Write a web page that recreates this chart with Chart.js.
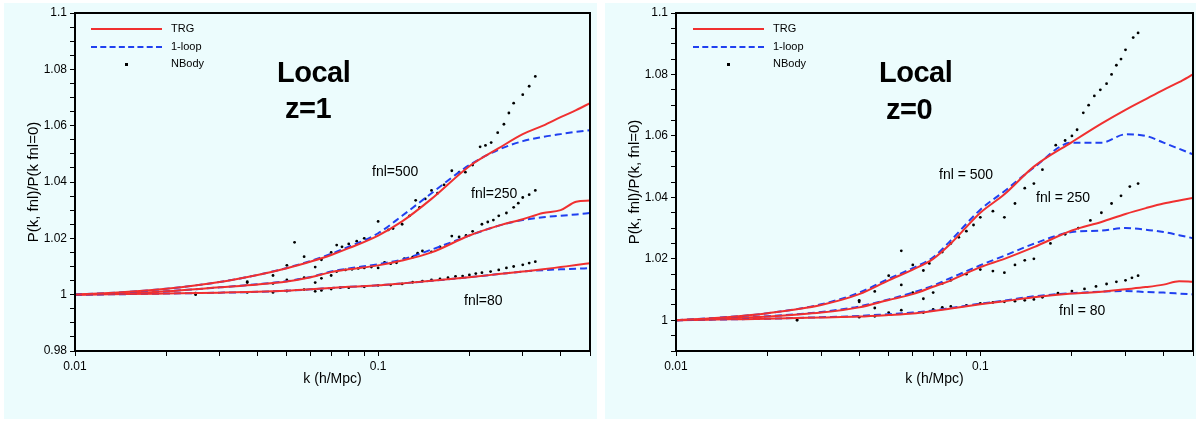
<!DOCTYPE html>
<html><head><meta charset="utf-8">
<script src="https://cdn.jsdelivr.net/npm/chart.js@4.4.1/dist/chart.umd.min.js"></script>
<style>
body{margin:0;background:#fff;width:1200px;height:422px;position:relative;font-family:"Liberation Sans",Arial,sans-serif;overflow:hidden}
.panel{position:absolute;top:3px;height:416px;background:#ecfcfd}
.wrap{position:absolute;top:0;width:600px;height:422px}
.t{position:absolute;color:#000;white-space:nowrap}
.big{font-size:29px;font-weight:bold;letter-spacing:-0.5px}
.fn{font-size:14px}
.lg{font-size:11px}
.ls{position:absolute;width:71px;height:0}
</style></head><body>
<div class="panel" style="left:4px;width:593px"></div>
<div class="panel" style="left:605px;width:591px"></div>
<div class="wrap" style="left:0"><canvas id="c1"></canvas></div>
<div class="wrap" style="left:600px"><canvas id="c2"></canvas></div>

<!-- legend + labels left -->
<div class="ls" style="left:91px;top:28px;border-top:2px solid #f03030"></div>
<div class="ls" style="left:91px;top:46px;border-top:2px dashed #2040f0"></div>
<div style="position:absolute;left:125px;top:63px;width:3px;height:3px;background:#000"></div>
<div class="t lg" style="left:171px;top:22px">TRG</div>
<div class="t lg" style="left:171px;top:40px">1-loop</div>
<div class="t lg" style="left:171px;top:57px">NBody</div>
<div class="t big" style="left:277px;top:56px">Local</div>
<div class="t big" style="left:285px;top:92px">z=1</div>
<div class="t fn" style="left:372px;top:163px">fnl=500</div>
<div class="t fn" style="left:471px;top:185px">fnl=250</div>
<div class="t fn" style="left:464px;top:292px">fnl=80</div>

<!-- legend + labels right -->
<div class="ls" style="left:693px;top:28px;border-top:2px solid #f03030"></div>
<div class="ls" style="left:693px;top:46px;border-top:2px dashed #2040f0"></div>
<div style="position:absolute;left:727px;top:63px;width:3px;height:3px;background:#000"></div>
<div class="t lg" style="left:773px;top:22px">TRG</div>
<div class="t lg" style="left:773px;top:40px">1-loop</div>
<div class="t lg" style="left:773px;top:57px">NBody</div>
<div class="t big" style="left:879px;top:56px">Local</div>
<div class="t big" style="left:886px;top:93px">z=0</div>
<div class="t fn" style="left:939px;top:166px">fnl = 500</div>
<div class="t fn" style="left:1036px;top:189px">fnl = 250</div>
<div class="t fn" style="left:1059px;top:302px">fnl = 80</div>

<script>
// common k grid for theory curves
const kGrid = [0.01,0.015,0.02,0.03,0.04,0.05,0.06,0.07,0.08,0.1,0.12,0.15,0.2,0.25,0.3,0.35,0.4,0.45,0.5];

// z=1
const trg500_z1  = [1,1.001,1.0021,1.0045,1.007,1.0094,1.0118,1.0141,1.0165,1.021,1.026,1.034,1.0456,1.052,1.057,1.060,1.063,1.0655,1.068];
const loop500_z1 = [1,1.001,1.0021,1.0045,1.007,1.0095,1.012,1.0145,1.017,1.0218,1.028,1.036,1.046,1.0515,1.0545,1.056,1.057,1.0578,1.0584];
const trg250_z1  = [1,1.0005,1.0012,1.0026,1.0036,1.0047,1.0062,1.008,1.009,1.0104,1.0121,1.015,1.021,1.0245,1.0268,1.029,1.030,1.033,1.0334];
const loop250_z1 = [1,1.0005,1.0012,1.0026,1.0037,1.0048,1.0063,1.0082,1.0093,1.0108,1.0125,1.016,1.021,1.0245,1.0265,1.0275,1.028,1.0285,1.029];
const trg80_z1   = [1,1.0002,1.0004,1.0007,1.001,1.0014,1.0019,1.0024,1.0028,1.0033,1.004,1.0049,1.0062,1.0073,1.0082,1.009,1.0098,1.0105,1.0112];
const loop80_z1  = [1,1.0002,1.0004,1.0007,1.001,1.0014,1.0019,1.0024,1.0028,1.0033,1.004,1.0049,1.0062,1.0073,1.0082,1.0087,1.009,1.0092,1.0094];
const nbK500_z1 = [0.025,0.037,0.045,0.05,0.053,0.057,0.062,0.065,0.07,0.073,0.076,0.08,0.085,0.09,0.1,0.108,0.112,0.12,0.127,0.133,0.137,0.143,0.15,0.157,0.165,0.175,0.185,0.194,0.205,0.217,0.226,0.236,0.248,0.26,0.27,0.28,0.3,0.315,0.33];
const nbV500_z1 = [1.0005,1.0046,1.0068,1.0104,1.0186,1.0135,1.0098,1.0124,1.015,1.0176,1.017,1.018,1.019,1.02,1.026,1.023,1.0235,1.025,1.028,1.0335,1.031,1.034,1.037,1.036,1.039,1.044,1.0435,1.0435,1.046,1.0525,1.053,1.054,1.0575,1.0605,1.0645,1.068,1.071,1.074,1.0775];
const nbK250_z1 = [0.025,0.037,0.045,0.05,0.057,0.062,0.065,0.07,0.073,0.078,0.082,0.086,0.09,0.095,0.1,0.105,0.11,0.115,0.122,0.13,0.135,0.14,0.15,0.16,0.175,0.185,0.195,0.205,0.22,0.23,0.24,0.25,0.265,0.28,0.29,0.3,0.315,0.33];
const nbV250_z1 = [1.0003,1.0043,1.004,1.0052,1.006,1.0043,1.0058,1.0068,1.0082,1.0088,1.009,1.0093,1.0095,1.0098,1.0095,1.0115,1.011,1.0113,1.0128,1.0133,1.0147,1.0155,1.0152,1.017,1.0208,1.0205,1.021,1.0225,1.025,1.0258,1.0265,1.028,1.029,1.031,1.0325,1.0345,1.0355,1.037];
const nbK80_z1 = [0.025,0.037,0.045,0.05,0.057,0.062,0.065,0.07,0.075,0.08,0.09,0.1,0.11,0.12,0.13,0.14,0.15,0.16,0.17,0.18,0.19,0.2,0.21,0.22,0.235,0.25,0.265,0.28,0.3,0.315,0.33];
const nbV80_z1 = [1.0,1.0008,1.0008,1.0013,1.0018,1.0012,1.0015,1.002,1.0025,1.0025,1.0028,1.0033,1.0034,1.0038,1.0044,1.0048,1.0052,1.0056,1.006,1.0065,1.0066,1.007,1.0075,1.0078,1.0082,1.0088,1.0095,1.01,1.0106,1.0112,1.0117];

// z=0
const trg500_z0  = [1,1.0011,1.0023,1.005,1.0085,1.013,1.0165,1.020,1.025,1.035,1.041,1.050,1.058,1.064,1.0685,1.072,1.075,1.0775,1.080];
const loop500_z0 = [1,1.0011,1.0023,1.0052,1.009,1.0135,1.017,1.0205,1.026,1.036,1.042,1.0497,1.0578,1.0578,1.0605,1.06,1.0578,1.0558,1.054];
const trg250_z0  = [1,1.0006,1.0012,1.0025,1.0042,1.0066,1.0085,1.0109,1.013,1.0173,1.020,1.0238,1.0292,1.032,1.0346,1.0365,1.038,1.039,1.0398];
const loop250_z0 = [1,1.0006,1.0013,1.0027,1.0045,1.0068,1.009,1.0113,1.0138,1.0179,1.021,1.0249,1.0287,1.0292,1.030,1.0295,1.0287,1.0277,1.0267];
const trg80_z0   = [1,1.0003,1.0005,1.0009,1.0012,1.0017,1.0022,1.003,1.0038,1.0052,1.0062,1.0075,1.0087,1.0093,1.0101,1.0108,1.0116,1.0127,1.0125];
const loop80_z0  = [1,1.0003,1.0005,1.001,1.0014,1.002,1.0025,1.0032,1.004,1.0054,1.0064,1.0078,1.0088,1.0093,1.0095,1.0092,1.009,1.0087,1.0084];
const nbK500_z0 = [0.025,0.04,0.045,0.05,0.055,0.06,0.065,0.068,0.075,0.08,0.085,0.09,0.095,0.1,0.11,0.12,0.13,0.14,0.15,0.16,0.177,0.19,0.2,0.208,0.218,0.227,0.237,0.248,0.26,0.27,0.28,0.29,0.3,0.318,0.33];
const nbV500_z0 = [1.0005,1.0065,1.0094,1.0145,1.0226,1.018,1.0162,1.0185,1.0222,1.025,1.027,1.029,1.031,1.0335,1.0355,1.0335,1.038,1.043,1.0445,1.049,1.057,1.0585,1.060,1.062,1.0675,1.070,1.073,1.075,1.077,1.080,1.083,1.085,1.088,1.092,1.0935];
const nbK250_z0 = [0.025,0.04,0.045,0.055,0.06,0.065,0.07,0.075,0.08,0.09,0.1,0.11,0.12,0.13,0.14,0.15,0.17,0.19,0.21,0.23,0.25,0.27,0.29,0.31,0.33];
const nbV250_z0 = [1.0005,1.006,1.004,1.0115,1.009,1.007,1.009,1.012,1.013,1.015,1.0165,1.016,1.0155,1.018,1.0195,1.02,1.025,1.028,1.03,1.0325,1.035,1.038,1.0405,1.0435,1.0445];
const nbK80_z0 = [0.025,0.04,0.045,0.05,0.055,0.065,0.07,0.075,0.08,0.09,0.1,0.11,0.12,0.13,0.14,0.15,0.16,0.18,0.2,0.22,0.24,0.26,0.28,0.3,0.315,0.33];
const nbV80_z0 = [1.0,1.001,1.0013,1.0025,1.0033,1.0025,1.0035,1.0042,1.0045,1.0048,1.0055,1.0058,1.006,1.0062,1.0065,1.0068,1.0075,1.0088,1.0095,1.0102,1.011,1.0118,1.0125,1.013,1.0138,1.0145];

const pts = (ks, vs) => ks.map((k, i) => ({x: k, y: vs[i]}));
const RED = '#f03030', BLUE = '#2040f0';
const line = (vs, dashed) => ({
  data: pts(kGrid, vs), showLine: true, pointRadius: 0, borderWidth: 2,
  borderColor: dashed ? BLUE : RED, borderDash: dashed ? [7, 4] : [],
  cubicInterpolationMode: 'monotone'
});
const dots = (ks, vs) => ({data: pts(ks, vs), showLine: false, pointRadius: 1.4,
  pointBackgroundColor: '#000', pointBorderWidth: 0});

const frame = {id: 'frame', afterDraw(c) {
  const a = c.chartArea, g = c.ctx;
  g.save(); g.strokeStyle = '#000'; g.lineWidth = 2;
  g.strokeRect(a.left, a.top, a.right - a.left, a.bottom - a.top); g.restore();
}};

const makeChart = (id, ymin, ytitle, sets) => new Chart(document.getElementById(id), {
  type: 'scatter',
  data: {datasets: sets},
  plugins: [frame],
  options: {
    responsive: false, animation: {duration: 0}, devicePixelRatio: 1,
    layout: {padding: {top: 13, right: id == 'c1' ? 10 : 7, bottom: 30, left: id == 'c1' ? 21 : 22}},
    plugins: {legend: {display: false}, tooltip: {enabled: false}},
    scales: {
      x: {type: 'logarithmic', min: 0.01, max: 0.5,
        afterFit: s => { s.height = 41; },
        afterBuildTicks: s => { s.ticks = [0.01,0.02,0.03,0.04,0.05,0.06,0.07,0.08,0.09,0.1,0.2,0.3,0.4,0.5].map(v => ({value: v})); },
        ticks: {color: '#000', font: {size: 12}, maxRotation: 0, autoSkip: false,
          callback: v => (v == 0.01 || v == 0.1) ? String(v) : ''},
        grid: {drawOnChartArea: false, color: '#000', tickLength: 5},
        border: {color: '#000', width: 2},
        title: {display: true, text: 'k (h/Mpc)', color: '#000', font: {size: 14}, padding: {top: 2}}},
      y: {min: ymin, max: 1.1,
        afterFit: s => { s.width = 54; },
        afterBuildTicks: s => { const t = []; for (let i = Math.round(ymin * 200); i <= 220; i++) t.push({value: i / 200}); s.ticks = t; },
        ticks: {color: '#000', font: {size: 12}, autoSkip: false,
          callback: v => Math.round(v * 1000) % 20 == 0 ? String(+v.toFixed(2)) : ''},
        grid: {drawOnChartArea: false, color: '#000', tickLength: 5},
        border: {color: '#000', width: 2},
        title: {display: true, text: ytitle, color: '#000', font: {size: 15}, padding: {bottom: 0}}}
    }
  }
});

document.getElementById('c1').width = 600; document.getElementById('c1').height = 422;
document.getElementById('c2').width = 600; document.getElementById('c2').height = 422;

makeChart('c1', 0.98, 'P(k, fnl)/P(k fnl=0)', [
  line(trg500_z1), line(loop500_z1, true), line(trg250_z1), line(loop250_z1, true),
  line(trg80_z1), line(loop80_z1, true),
  dots(nbK500_z1, nbV500_z1), dots(nbK250_z1, nbV250_z1), dots(nbK80_z1, nbV80_z1)
]);
makeChart('c2', 0.99, 'P(k, fnl)/P(k, fnl=0)', [
  line(trg500_z0), line(loop500_z0, true), line(trg250_z0), line(loop250_z0, true),
  line(trg80_z0), line(loop80_z0, true),
  dots(nbK500_z0, nbV500_z0), dots(nbK250_z0, nbV250_z0), dots(nbK80_z0, nbV80_z0)
]);
</script>
</body></html>
